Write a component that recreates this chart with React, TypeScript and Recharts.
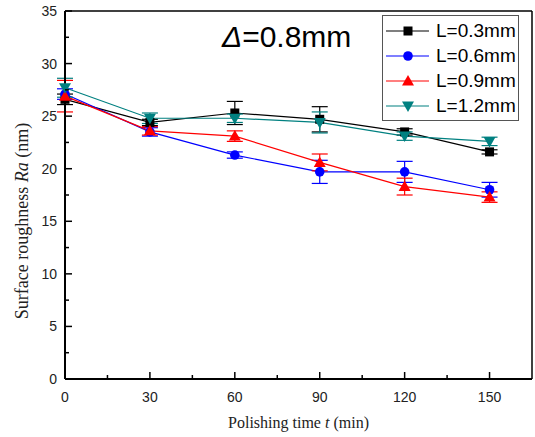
import React from "react";
import { LineChart, Line, XAxis, YAxis, ErrorBar, ReferenceLine } from "recharts";

const times = [0, 30, 60, 90, 120, 150];

const ra03 = [26.6, 24.4, 25.3, 24.7, 23.5, 21.6];
const err03 = [0.5, 0.3, 1.1, 1.2, 0.3, 0.2];
const ra06 = [27.1, 23.5, 21.3, 19.7, 19.7, 18.0];
const err06 = [0.5, 0.4, 0.3, 1.1, 1.0, 0.7];
const ra09 = [26.9, 23.6, 23.1, 20.6, 18.3, 17.3];
const err09 = [1.5, 0.4, 0.5, 0.8, 0.8, 0.5];
const ra12 = [27.7, 24.8, 24.8, 24.4, 23.1, 22.6];
const err12 = [0.9, 0.5, 0.4, 1.0, 0.4, 0.4];

const xTicks = [0, 15, 30, 45, 60, 75, 90, 105, 120, 135, 150];
const yTicks = [0, 2.5, 5, 7.5, 10, 12.5, 15, 17.5, 20, 22.5, 25, 27.5, 30, 32.5, 35];

const series = [
  { key: "l03", err: "e03", name: "L=0.3mm", color: "#000000", shape: "square" },
  { key: "l06", err: "e06", name: "L=0.6mm", color: "#0000FF", shape: "circle" },
  { key: "l09", err: "e09", name: "L=0.9mm", color: "#FF0000", shape: "up" },
  { key: "l12", err: "e12", name: "L=1.2mm", color: "#008080", shape: "down" },
];

const data = times.map((t, i) => ({
  t,
  l03: ra03[i], e03: err03[i],
  l06: ra06[i], e06: err06[i],
  l09: ra09[i], e09: err09[i],
  l12: ra12[i], e12: err12[i],
}));

const Marker = ({ cx, cy, shape, color }: any) => {
  if (shape === "square") return <rect x={cx - 4.5} y={cy - 4.5} width={9} height={9} fill={color} />;
  if (shape === "circle") return <circle cx={cx} cy={cy} r={4.8} fill={color} />;
  if (shape === "up")
    return <polygon points={`${cx},${cy - 6} ${cx - 6},${cy + 4.5} ${cx + 6},${cy + 4.5}`} fill={color} />;
  return <polygon points={`${cx},${cy + 6} ${cx - 6},${cy - 4.5} ${cx + 6},${cy - 4.5}`} fill={color} />;
};

const XTick = ({ x, y, payload }: any) => {
  const major = payload.value % 30 === 0;
  return (
    <g>
      <line x1={x} x2={x} y1={y} y2={y - (major ? 7 : 4)} stroke="#000" strokeWidth={1.5} />
      {major && (
        <text x={x} y={y + 23} textAnchor="middle" fontFamily="Liberation Sans, Arial" fontSize={14} fill="#222">
          {payload.value}
        </text>
      )}
    </g>
  );
};

const YTick = ({ x, y, payload }: any) => {
  const major = payload.value % 5 === 0;
  return (
    <g>
      <line x1={x} x2={x + (major ? 7 : 4)} y1={y} y2={y} stroke="#000" strokeWidth={1.5} />
      {major && (
        <text x={x - 8} y={y + 5} textAnchor="end" fontFamily="Liberation Sans, Arial" fontSize={14} fill="#222">
          {payload.value}
        </text>
      )}
    </g>
  );
};

const LegendBox = () => (
  <div
    style={{
      position: "absolute",
      left: 382,
      top: 15,
      border: "1px solid #555",
      background: "#fff",
      width: 135,
      padding: "2px 0 2px 0",
      fontFamily: "Liberation Sans, Arial",
      fontSize: 19,
      lineHeight: "25px",
    }}
  >
    {series.map((s) => (
      <div key={s.key} style={{ display: "flex", alignItems: "center", height: 25 }}>
        <svg width={46} height={20} style={{ marginLeft: 3 }}>
          <line x1={0} x2={43} y1={10} y2={10} stroke={s.color} strokeWidth={1.2} />
          <Marker cx={22} cy={10} shape={s.shape} color={s.color} />
        </svg>
        <span style={{ color: "#000", marginLeft: 4 }}>{s.name}</span>
      </div>
    ))}
  </div>
);

export default function App() {
  return (
    <div style={{ position: "absolute", left: 0, top: 0, width: 535, height: 437, background: "#fff" }}>
      <LineChart width={535} height={437} data={data} margin={{ top: 11, right: 3, left: 0, bottom: 0 }}>
        <XAxis
          dataKey="t"
          type="number"
          domain={[0, 165]}
          ticks={xTicks}
          interval={0}
          height={58}
          tickSize={0}
          tickMargin={0}
          tickLine={false}
          tick={<XTick />}
          axisLine={{ stroke: "#000", strokeWidth: 2 }}
          label={(props: any) => {
            const vb = props.viewBox;
            return (
              <text
                x={vb.x + vb.width / 2}
                y={428}
                textAnchor="middle"
                fontFamily="Liberation Serif, Times New Roman"
                fontSize={16}
                fill="#222"
              >
                Polishing time <tspan fontStyle="italic">t</tspan> (min)
              </text>
            );
          }}
        />
        <YAxis
          type="number"
          domain={[0, 35]}
          ticks={yTicks}
          interval={0}
          width={65}
          tickSize={0}
          tickMargin={0}
          tickLine={false}
          tick={<YTick />}
          axisLine={{ stroke: "#000", strokeWidth: 2 }}
          label={() => (
            <text
              x={28}
              y={221}
              transform="rotate(-90 28 221)"
              textAnchor="middle"
              fontFamily="Liberation Serif, Times New Roman"
              fontSize={18}
              fill="#222"
            >
              Surface roughness <tspan fontStyle="italic">Ra</tspan> (nm)
            </text>
          )}
        />
        <ReferenceLine y={35} stroke="#000" strokeWidth={1.5} />
        <ReferenceLine x={165} stroke="#000" strokeWidth={1.5} />
        {series.map((s) => (
          <Line
            key={s.key}
            dataKey={s.key}
            name={s.name}
            stroke={s.color}
            strokeWidth={1.2}
            isAnimationActive={false}
            dot={(p: any) => <Marker key={`${s.key}-${p.index}`} cx={p.cx} cy={p.cy} shape={s.shape} color={s.color} />}
            activeDot={false}
          >
            <ErrorBar dataKey={s.err} width={8} stroke={s.color} strokeWidth={1.2} direction="y" isAnimationActive={false} />
          </Line>
        ))}
      </LineChart>
      <LegendBox />
      <div
        style={{
          position: "absolute",
          left: 222,
          top: 20,
          fontFamily: "Liberation Sans, Arial",
          fontSize: 30,
          color: "#000",
          whiteSpace: "nowrap",
        }}
      >
        <span style={{ fontStyle: "italic" }}>Δ</span>=0.8mm
      </div>
    </div>
  );
}
